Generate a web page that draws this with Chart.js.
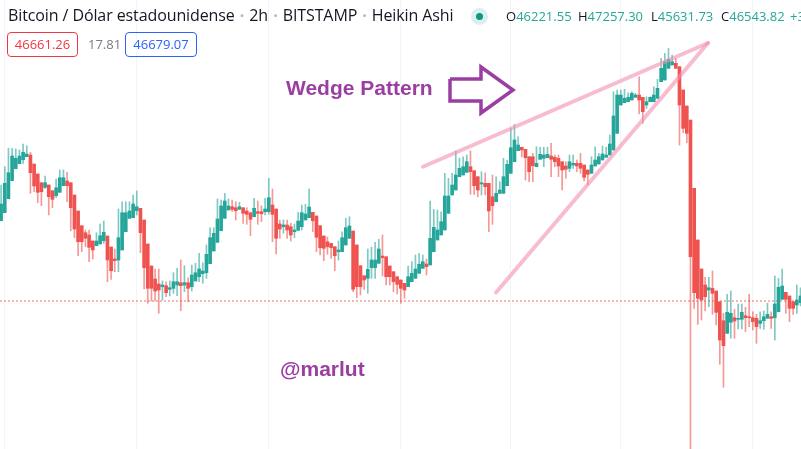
<!DOCTYPE html>
<html>
<head>
<meta charset="utf-8">
<script src="https://cdn.jsdelivr.net/npm/chart.js@4.4.0/dist/chart.umd.min.js"></script>
<style>
    body { margin: 0; background: #fff; }
    #wrap { position: relative; width: 801px; height: 449px; overflow: hidden; font-family: "Open Sans", Roboto, sans-serif; }
    #wrap canvas { position: absolute; left: 0; top: 0; }
    .lbl { position: absolute; white-space: nowrap; pointer-events: none; }
    #title { left: 8px; top: 5px; font-size: 16px; letter-spacing: -0.1px; line-height: 20px; color: #131722; }
    #title .sep { color: #b2b5be; font-weight: bold; margin: 0 1px; }
    #dot { position: absolute; left: 471px; top: 8px; width: 17px; height: 17px; border-radius: 50%; background: rgba(8, 153, 129, 0.15); }
    #dot div { position: absolute; left: 5px; top: 5px; width: 7px; height: 7px; border-radius: 50%; background: #089981; }
    .ohlc { top: 7px; font-size: 13px; line-height: 18px; color: #131722; }
    .ohlc span { color: #26a69a; }
    .box { position: absolute; top: 32px; height: 23px; line-height: 23px; border: 1px solid; border-radius: 4px; font-size: 13px; text-align: center; }
    .note { font-family: "Liberation Sans", Arial, sans-serif; font-weight: bold; font-size: 21px; line-height: 21px; color: #9b3ea2; }
</style>
</head>
<body>
<div id="wrap">
    <canvas id="chart" width="801" height="449"></canvas>
    <div class="lbl" id="title">Bitcoin / Dólar estadounidense <span class="sep">·</span> 2h <span class="sep">·</span> BITSTAMP <span class="sep">·</span> Heikin Ashi</div>
    <div id="dot"><div></div></div>
    <div class="lbl ohlc" style="left:506px">O<span>46221.55</span></div>
    <div class="lbl ohlc" style="left:578px">H<span>47257.30</span></div>
    <div class="lbl ohlc" style="left:651px">L<span>45631.73</span></div>
    <div class="lbl ohlc" style="left:721px">C<span>46543.82</span></div>
    <div class="lbl ohlc" style="left:790px"><span>+322.27</span></div>
    <div class="box" style="left:7px;width:69px;color:#f23645;border-color:#f23645">46661.26</div>
    <div class="lbl" style="left:88px;top:35px;font-size:13px;line-height:18px;color:#787b86">17.81</div>
    <div class="box" style="left:125px;width:70px;color:#2962ff;border-color:#2962ff">46679.07</div>
    <div class="lbl note" style="left:286px;top:77px">Wedge Pattern</div>
    <div class="lbl note" style="left:280px;top:358px">@marlut</div>
</div>
<script>
// Heikin Ashi candles, BTC/USD 2h
const opens = [48607, 48807, 49157, 49607, 49907, 50032, 50132, 50207, 50250, 50025,
    49775, 49557, 49442, 49500, 49357, 49232, 49317, 49482, 49600, 49557,
    49250, 48850, 48482, 48307, 48250, 48100, 47982, 48025, 48107, 48225,
    47950, 47650, 47625, 47875, 48332, 48667, 48682, 48857, 48917, 48625,
    48025, 47475, 47150, 47025, 46957, 46982, 46892, 46917, 47000, 47057,
    47000, 47057, 46957, 47100, 47207, 47282, 47307, 47532, 47850, 48067,
    48357, 48667, 48875, 48957, 48932, 48892, 48932, 48850, 48807, 48707,
    48832, 48832, 48832, 48832, 49000, 48900, 48525, 48457, 48500, 48457,
    48332, 48367, 48457, 48625, 48682, 48817, 48725, 48482, 48225, 48082,
    48042, 47957, 47832, 47832, 48000, 48167, 48350, 48000, 47482, 47232,
    47167, 47432, 47432, 47542, 47725, 47707, 47475, 47332, 47207, 47125,
    47042, 46957, 47082, 47167, 47292, 47417, 47525, 47500, 47832, 48125,
    48250, 48375, 48792, 49250, 49375, 49707, 49750, 49817, 49957, 49857,
    49707, 49525, 49542, 49542, 49207, 49082, 49292, 49292, 49482, 49792,
    50082, 50357, 50442, 50392, 50207, 50207, 49957, 50142, 50167, 50182,
    50225, 50192, 50167, 50082, 49975, 49917, 50000, 50042, 50042, 50000,
    49875, 49792, 49975, 50025, 50125, 50192, 50250, 50375, 50792, 51500,
    51557, 51582, 51625, 51692, 51750, 51692, 51500, 51582, 51582, 51667,
    52082, 52125, 52417, 52500, 52542, 52457, 51875, 51475, 51125, 49417,
    48125, 47400, 47000, 46875, 46917, 46850, 46582, 46107, 45792, 46067,
    46182, 46142, 46142, 46232, 46207, 46182, 46167, 46042, 46107, 46167,
    46207, 46182, 46332, 46642, 46817, 46725, 46582, 46500, 46557];

const highs = [49500, 49957, 50417, 50417, 50400, 50375, 50525, 50482, 50317, 50025,
    49775, 49557, 49725, 49500, 49357, 49650, 49875, 49875, 49817, 49557,
    49250, 48850, 48482, 48375, 48375, 48100, 48307, 48525, 48600, 48225,
    47950, 47900, 48900, 49082, 49082, 49082, 49250, 49350, 48917, 48625,
    48025, 47475, 47400, 47400, 47100, 47082, 47100, 47307, 47417, 47625,
    47482, 47182, 47500, 47542, 47792, 47557, 48000, 48432, 48432, 49150,
    49125, 49292, 49150, 49125, 49082, 49067, 48932, 48932, 48807, 49167,
    49100, 48982, 49167, 49667, 49400, 48900, 48625, 48625, 48625, 48542,
    48525, 48817, 49000, 49017, 49400, 48817, 48725, 48482, 48225, 48200,
    48042, 47957, 48100, 48332, 48667, 48707, 48350, 48000, 47482, 47232,
    47900, 47950, 48067, 48142, 48250, 47707, 47475, 47332, 47207, 47125,
    47042, 47475, 47582, 47750, 47792, 47750, 47650, 49100, 48892, 48875,
    48832, 49792, 49667, 49792, 50350, 50167, 50207, 50250, 50350, 49857,
    49707, 49832, 49807, 49542, 49750, 49707, 49582, 50167, 50125, 50917,
    51017, 50707, 50450, 50392, 50207, 50292, 50457, 50442, 50442, 50442,
    50542, 50250, 50250, 50082, 50082, 50250, 50250, 50125, 50292, 50000,
    49875, 50207, 50457, 50292, 50475, 50442, 50750, 51832, 51875, 51875,
    51892, 51807, 51832, 51792, 52207, 51692, 51707, 51707, 51957, 52142,
    52667, 52792, 52917, 52750, 52667, 52457, 51875, 51475, 51125, 49417,
    48125, 47400, 47192, 47192, 47350, 46850, 46582, 46292, 46767, 46850,
    46392, 46525, 46525, 46442, 46767, 46332, 46267, 46332, 46350, 46542,
    46332, 47225, 47167, 47400, 46817, 46725, 46582, 47000, 46932];

const lows = [48600, 48807, 49157, 49607, 49907, 50032, 50042, 50207, 49292, 49332,
    49057, 48982, 49417, 48750, 48932, 49182, 49317, 49482, 49082, 48357,
    48182, 47732, 47832, 47957, 47582, 47650, 47982, 48025, 48042, 47082,
    47142, 47332, 47332, 47875, 48332, 48667, 48682, 48750, 47807, 46900,
    46542, 46600, 46600, 46292, 46625, 46707, 46725, 46792, 46732, 46357,
    46832, 46582, 46850, 47100, 47082, 47042, 47167, 47532, 47850, 48067,
    48357, 48667, 48875, 48832, 48625, 48892, 48542, 48517, 48232, 48707,
    48517, 48582, 48750, 48767, 48082, 47775, 48167, 48292, 48167, 48100,
    48182, 48367, 48375, 48625, 48682, 48332, 47832, 47750, 47607, 47767,
    47667, 47357, 47625, 47832, 48000, 48167, 46832, 46682, 46750, 46892,
    46792, 47167, 47167, 47542, 47225, 47000, 47000, 46832, 46775, 46542,
    46667, 46957, 47082, 47167, 47292, 47417, 47250, 47500, 47832, 48125,
    48250, 48375, 48792, 49250, 49375, 49707, 49750, 49817, 49267, 49267,
    49207, 49250, 49250, 48332, 48517, 49082, 49292, 49292, 49482, 49792,
    50082, 50357, 50207, 49625, 49582, 49582, 49957, 50142, 49957, 50182,
    49707, 49957, 49707, 49375, 49667, 49832, 49917, 49832, 49792, 49600,
    49500, 49792, 49975, 50025, 50125, 50192, 50250, 50375, 50792, 51500,
    51557, 51582, 51625, 51692, 51275, 51042, 51417, 51582, 51582, 51667,
    52082, 52125, 52417, 52500, 52417, 50500, 50807, 50557, 42700, 46417,
    46017, 46125, 46350, 46457, 46267, 46000, 45017, 44442, 45792, 45667,
    45667, 45900, 45900, 45832, 45957, 45875, 45542, 45917, 45892, 46167,
    45917, 45625, 46332, 46642, 46292, 46082, 46267, 46292, 46475];

const closes = [49025, 49542, 49807, 50225, 50167, 50225, 50317, 50275, 49807, 49475,
    49317, 49332, 49557, 49207, 49142, 49432, 49682, 49682, 49482, 48932,
    48400, 48082, 48082, 48167, 47942, 47875, 48100, 48232, 48317, 47625,
    47357, 47607, 48182, 48807, 48807, 48850, 49025, 48957, 48307, 47432,
    46917, 46917, 46850, 46875, 47000, 46807, 46932, 47082, 47082, 46982,
    47057, 46917, 47250, 47307, 47400, 47350, 47767, 48182, 48292, 48650,
    48975, 49100, 48975, 48892, 48857, 48957, 48792, 48767, 48642, 48917,
    48792, 48782, 48900, 49182, 48767, 48167, 48400, 48500, 48375, 48250,
    48375, 48600, 48807, 48775, 48950, 48607, 48192, 47932, 47917, 47957,
    47932, 47732, 47875, 48182, 48432, 48475, 46892, 46957, 46957, 47125,
    47392, 47625, 47625, 47900, 47682, 47207, 47207, 47082, 47017, 46917,
    46875, 47207, 47292, 47400, 47517, 47582, 47457, 48167, 48442, 48375,
    48582, 49225, 49225, 49500, 49750, 49917, 49957, 50082, 49832, 49482,
    49375, 49557, 49457, 48850, 48982, 49292, 49375, 49707, 50017, 50432,
    50625, 50500, 50375, 50182, 49832, 49982, 50042, 50267, 50250, 50267,
    50142, 50082, 49975, 49875, 49892, 50082, 50042, 49975, 49917, 49692,
    49767, 50000, 50125, 50207, 50275, 50250, 50525, 51225, 51750, 51750,
    51667, 51692, 51792, 51750, 51625, 51332, 51582, 51692, 51750, 51917,
    52417, 52582, 52642, 52582, 52417, 51500, 50917, 50792, 47707, 46807,
    46667, 46625, 46707, 46932, 46792, 46317, 45625, 45482, 46317, 46292,
    46100, 46167, 46317, 46182, 46182, 46082, 45957, 46107, 46207, 46267,
    46167, 46525, 46942, 46975, 46642, 46417, 46417, 46625, 46725];

// last-price dotted line
const priceLine = 46600;

// day separators (candle index)
const gridIdx = [1, 37, 73, 109, 139, 169, 205];

// drawings: wedge trend lines and the arrow (candle index / price)
const wedgeUpperX = [115.06, 192.78];
const wedgeUpperY = [49957, 53050];
const wedgeLowerX = [134.97, 192.78];
const wedgeLowerY = [46812, 53050];
const arrowX = [122.42, 130.87, 130.87, 139.6, 130.87, 130.87, 122.42, 122.42];
const arrowY = [52150, 52150, 52450, 51875, 51300, 51600, 51600, 52150];

const X_MIN = -0.3;
const X_MAX = 218.14;
const Y_MIN = 42900;
const Y_MAX = 54125;

const GREEN = '#26a69a';
const RED = '#ef5350';
const GREEN_WICK = 'rgba(38, 166, 154, 0.6)';
const RED_WICK = 'rgba(239, 83, 80, 0.6)';
const PINK = 'rgba(244, 143, 177, 0.6)';
const PURPLE = '#9b3ea2';

document.addEventListener('DOMContentLoaded', function () {
    const ctx = document.getElementById('chart').getContext('2d');
    const idx = opens.map((_, i) => i);
    const up = idx.map(i => closes[i] >= opens[i]);
    const pts = (xs, ys) => xs.map((x, i) => ({ x: x, y: ys[i] }));

    new Chart(ctx, {
        type: 'bar',
        data: {
            datasets: [
                {
                    label: 'wedge upper',
                    type: 'line',
                    order: 0,
                    data: pts(wedgeUpperX, wedgeUpperY),
                    borderColor: PINK,
                    borderWidth: 4,
                    borderCapStyle: 'round',
                    pointRadius: 0
                },
                {
                    label: 'wedge lower',
                    type: 'line',
                    order: 0,
                    data: pts(wedgeLowerX, wedgeLowerY),
                    borderColor: PINK,
                    borderWidth: 4,
                    borderCapStyle: 'round',
                    pointRadius: 0
                },
                {
                    label: 'arrow',
                    type: 'line',
                    order: 0,
                    data: pts(arrowX, arrowY),
                    borderColor: PURPLE,
                    borderWidth: 3.5,
                    borderJoinStyle: 'miter',
                    pointRadius: 0,
                    tension: 0
                },
                {
                    label: 'body',
                    order: 1,
                    grouped: false,
                    data: idx.map(i => ({ x: i, y: [opens[i], closes[i]] })),
                    backgroundColor: up.map(u => u ? GREEN : RED),
                    barThickness: 3,
                    minBarLength: 1
                },
                {
                    label: 'wick',
                    order: 2,
                    grouped: false,
                    data: idx.map(i => ({ x: i, y: [lows[i], highs[i]] })),
                    backgroundColor: up.map(u => u ? GREEN_WICK : RED_WICK),
                    barThickness: 1
                },
                {
                    label: 'price line',
                    type: 'line',
                    order: 3,
                    data: [{ x: X_MIN, y: priceLine }, { x: X_MAX, y: priceLine }],
                    borderColor: 'rgba(239, 83, 80, 0.85)',
                    borderWidth: 1,
                    borderDash: [2, 2],
                    pointRadius: 0
                }
            ]
        },
        options: {
            responsive: false,
            animation: false,
            devicePixelRatio: 1,
            layout: { padding: 0 },
            plugins: {
                legend: { display: false },
                tooltip: { enabled: false }
            },
            scales: {
                x: {
                    type: 'linear',
                    min: X_MIN,
                    max: X_MAX,
                    offset: false,
                    border: { display: false },
                    ticks: { display: false },
                    grid: { offset: false, drawTicks: false, color: '#f3f4f7' },
                    afterBuildTicks: axis => {
                        axis.ticks = gridIdx.map(v => ({ value: v }));
                    }
                },
                y: {
                    display: false,
                    min: Y_MIN,
                    max: Y_MAX
                }
            }
        }
    });
});
</script>
</body>
</html>
